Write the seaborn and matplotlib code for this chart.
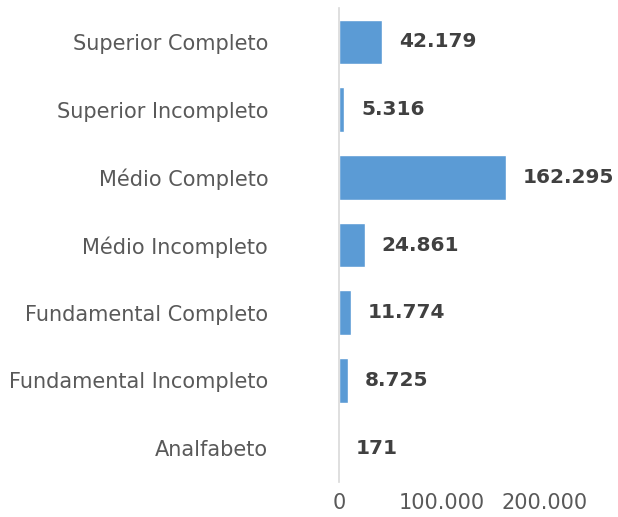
import pandas as pd
import matplotlib.pyplot as plt
import seaborn as sns

# Escolaridade - valores
categorias = ["Superior Completo", "Superior Incompleto", "Médio Completo",
              "Médio Incompleto", "Fundamental Completo",
              "Fundamental Incompleto", "Analfabeto"]
valores = [42179, 5316, 162295, 24861, 11774, 8725, 171]
rotulos = ["42.179", "5.316", "162.295", "24.861", "11.774", "8.725", "171"]
ticks = [0, 100000, 200000]
tick_labels = ["0", "100.000", "200.000"]

df = pd.DataFrame({"categoria": categorias, "valor": valores})

sns.set_style("white")
plt.rcParams['font.family'] = ['DejaVu Sans']

fig = plt.figure(figsize=(6.18, 5.17), dpi=100)
ax = fig.add_axes([0.5485, 0.0677, 0.333, 0.9168])

sns.barplot(data=df, x="valor", y="categoria", color="#5B9BD5",
            saturation=1, width=0.66, ax=ax)

# rotulos de dados
for i, (v, txt) in enumerate(zip(valores, rotulos)):
    ax.annotate(txt, (v, i), xytext=(12, 0), textcoords="offset points",
                va="center", ha="left", fontsize=14.5, fontweight="bold",
                color="#404040", annotation_clip=False)

ax.set_xlim(0, 200000)
ax.set_xticks(ticks)
ax.set_xticklabels(tick_labels)
ax.set_xlabel("")
ax.set_ylabel("")
ax.tick_params(axis="y", length=0, pad=51, labelsize=15, labelcolor="#595959")
ax.tick_params(axis="x", length=0, pad=8, labelsize=15, labelcolor="#595959")
for s in ["top", "right", "bottom"]:
    ax.spines[s].set_visible(False)
ax.spines["left"].set_color("#D9D9D9")
ax.spines["left"].set_linewidth(1.2)

plt.savefig("out.png", dpi=100)
